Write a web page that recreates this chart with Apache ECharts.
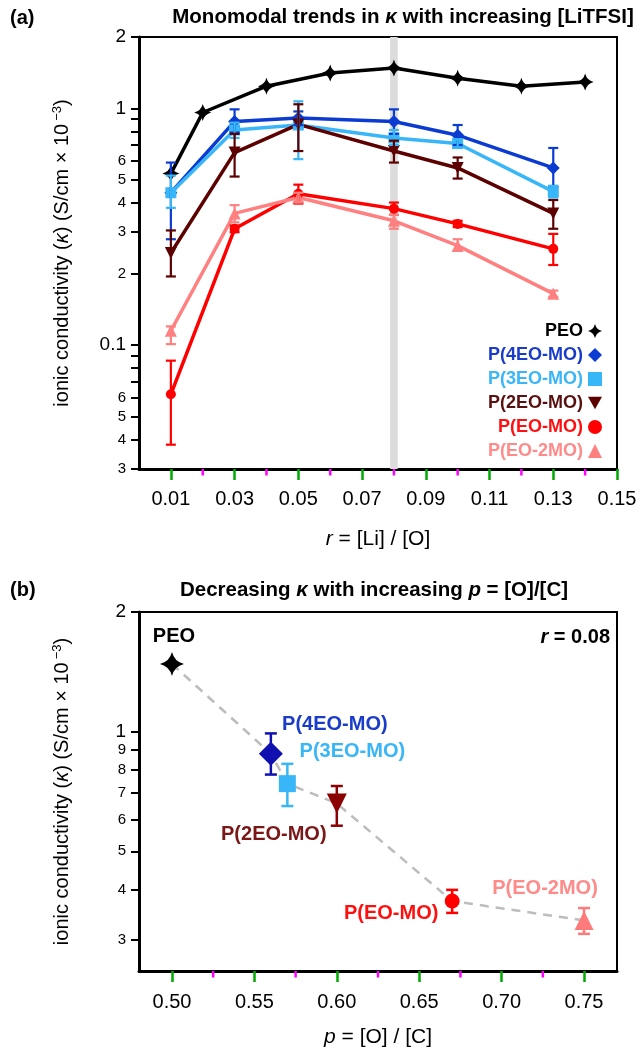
<!DOCTYPE html>
<html>
<head>
<meta charset="utf-8">
<script src="https://cdn.jsdelivr.net/npm/echarts@6/dist/echarts.min.js"></script>
<style>
html, body { margin: 0; padding: 0; background: #fff; }
#main { width: 643px; height: 1055px; }
</style>
</head>
<body>
<div id="main"></div>
<script>
var polymers = ['PEO', 'P(4EO-MO)', 'P(3EO-MO)', 'P(2EO-MO)', 'P(EO-MO)', 'P(EO-2MO)'];

// (a) conductivity vs r = [Li]/[O]
var rPEO = [0.01, 0.02, 0.04, 0.06, 0.08, 0.10, 0.12, 0.14];
var kPEO = [0.53, 0.96, 1.24, 1.41, 1.48, 1.34, 1.24, 1.29];
var rCopo = [0.01, 0.03, 0.05, 0.08, 0.10, 0.13];
var k4EO = [0.44, 0.88, 0.91, 0.88, 0.77, 0.56];
var lo4EO = [0.28, 0.79, 0.85, 0.78, 0.70, 0.47];
var hi4EO = [0.59, 0.99, 0.97, 0.99, 0.85, 0.68];
var k3EO = [0.44, 0.81, 0.85, 0.75, 0.71, 0.445];
var lo3EO = [0.38, 0.75, 0.61, 0.70, 0.68, 0.42];
var hi3EO = [0.52, 0.87, 1.07, 0.81, 0.74, 0.47];
var k2EO = [0.245, 0.65, 0.855, 0.66, 0.56, 0.36];
var lo2EO = [0.195, 0.515, 0.66, 0.59, 0.505, 0.31];
var hi2EO = [0.305, 0.78, 1.04, 0.73, 0.62, 0.41];
var kEO = [0.062, 0.31, 0.436, 0.377, 0.325, 0.255];
var loEO = [0.038, 0.30, 0.396, 0.355, 0.315, 0.218];
var hiEO = [0.086, 0.32, 0.476, 0.40, 0.335, 0.295];
var kEO2 = [0.115, 0.36, 0.42, 0.335, 0.263, 0.165];
var loEO2 = [0.101, 0.33, 0.40, 0.31, 0.25, 0.16];
var hiEO2 = [0.12, 0.39, 0.44, 0.355, 0.28, 0.17];

// (b) conductivity at r = 0.08 vs p = [O]/[C]
var pRatio = [0.50, 0.56, 0.57, 0.60, 0.67, 0.75];
var kAtR = [1.48, 0.88, 0.74, 0.66, 0.375, 0.335];
var kAtRLo = [null, 0.78, 0.65, 0.58, 0.35, 0.31];
var kAtRHi = [null, 0.99, 0.83, 0.73, 0.40, 0.36];

// ticks
var xTicksA = [0.01, 0.03, 0.05, 0.07, 0.09, 0.11, 0.13, 0.15];
var xMinorA = [0.02, 0.04, 0.06, 0.08, 0.10, 0.12, 0.14];
var yTicksA = [0.03, 0.04, 0.05, 0.06, 0.07, 0.08, 0.09, 0.1, 0.2, 0.3, 0.4, 0.5, 0.6, 0.7, 0.8, 0.9, 1, 2];
var yLabelsA = [0.03, 0.04, 0.05, 0.06, 0.1, 0.2, 0.3, 0.4, 0.5, 0.6, 1, 2];
var xTicksB = [0.50, 0.55, 0.60, 0.65, 0.70, 0.75];
var xMinorB = [0.525, 0.575, 0.625, 0.675, 0.725];
var yTicksB = [0.3, 0.4, 0.5, 0.6, 0.7, 0.8, 0.9, 1, 2];

var font = "'Liberation Sans', Arial, sans-serif";
var colors = ['#000000', '#0b3bd1', '#38b6f7', '#5c0000', '#ff0000', '#ff8080'];
var textColors = ['#000000', '#1a3cc8', '#38b6f7', '#5a1010', '#ff1010', '#ff8a8a'];
var bColors = ['#000000', '#1010b0', '#38b6f7', '#8b0000', '#ff0000', '#ff7a7a'];
var bTextColors = ['#000000', '#1a3cc8', '#38b6f7', '#7b1717', '#ff1010', '#ff8a8a'];
var star = 'path://M0,-10 Q2,-2 10,0 Q2,2 0,10 Q-2,2 -10,0 Q-2,-2 0,-10 Z';
var downTri = 'path://M0,0 L10,0 L5,9 Z';
var symbols = [star, 'diamond', 'rect', downTri, 'circle', 'triangle'];
var sizesA = [17, 13, 11, 12, 10, 12];
var sizesB = [24, 24, 17, 20, 15, 19];
var labelOffsetB = [[2, -27], [64, -29], [65, -32], [-63, 31], [-61, 12], [-39, -32]];

var copoK = [k4EO, k3EO, k2EO, kEO, kEO2];
var copoLo = [lo4EO, lo3EO, lo2EO, loEO, loEO2];
var copoHi = [hi4EO, hi3EO, hi2EO, hiEO, hiEO2];

function zip(xs, ys) {
    return xs.map(function (x, i) { return [x, ys[i]]; });
}

function logLabel(v) {
    if (Math.abs(v - 0.1) < 1e-9) return '{big|0.1}';
    if (v >= 0.999) return '{big|' + Math.round(v) + '}';
    var m = Math.round(v / Math.pow(10, Math.floor(Math.log10(v) + 1e-9)));
    return '{sm|' + m + '}';
}

function errBars(capW, lw) {
    return function (params, api) {
        var x = api.value(0);
        var top = api.coord([x, api.value(2)]);
        var bot = api.coord([x, api.value(1)]);
        var style = { stroke: api.visual('color'), lineWidth: lw, fill: null };
        return {
            type: 'group',
            children: [
                { type: 'line', shape: { x1: top[0], y1: top[1], x2: bot[0], y2: bot[1] }, style: style },
                { type: 'line', shape: { x1: top[0] - capW, y1: top[1], x2: top[0] + capW, y2: top[1] }, style: style },
                { type: 'line', shape: { x1: bot[0] - capW, y1: bot[1], x2: bot[0] + capW, y2: bot[1] }, style: style }
            ]
        };
    };
}

// short unlabeled ticks under the x axis, placed through the axis scale
function minorTicks(xIdx, yIdx, yMin, ticks) {
    return {
        type: 'custom', xAxisIndex: xIdx, yAxisIndex: yIdx, clip: false,
        data: ticks.map(function (t) { return [t, yMin]; }),
        renderItem: function (params, api) {
            var p = api.coord([api.value(0), api.value(1)]);
            return { type: 'line', shape: { x1: p[0], y1: p[1], x2: p[0], y2: p[1] + 6.5 },
                style: { stroke: '#ff00ff', lineWidth: 2.5 } };
        }
    };
}

var axisLine = { onZero: false, lineStyle: { color: '#000', width: 3 } };
var yNameRich = {
    n: { fontSize: 20, fontFamily: font, color: '#000' },
    i: { fontSize: 20, fontFamily: font, fontStyle: 'italic', color: '#000' },
    s: { fontSize: 13, fontFamily: font, color: '#000', padding: [0, 0, 9, 3] }
};
var yName = '{n|ionic conductivity (}{i|κ}{n|) (S/cm × 10}{s|−3}{n|)}';
var titleRich = {
    b: { fontSize: 20.5, fontWeight: 'bold', fontFamily: font, fill: '#000' },
    i: { fontSize: 20.5, fontWeight: 'bold', fontStyle: 'italic', fontFamily: font, fill: '#000' }
};

var series = [];

// (a) PEO line + grey band at r = 0.08
series.push({
    name: polymers[0], type: 'line', xAxisIndex: 0, yAxisIndex: 0,
    data: zip(rPEO, kPEO), symbol: symbols[0], symbolSize: sizesA[0],
    lineStyle: { color: colors[0], width: 3.5 }, itemStyle: { color: colors[0] },
    z: 5,
    markArea: {
        silent: true,
        itemStyle: { color: '#dcdcdc' },
        data: [[{ xAxis: 0.0788 }, { xAxis: 0.0812 }]]
    }
});

for (var s = 0; s < 5; s++) {
    var idx = s + 1;
    series.push({
        name: polymers[idx], type: 'line', xAxisIndex: 0, yAxisIndex: 0,
        data: zip(rCopo, copoK[s]), symbol: symbols[idx], symbolSize: sizesA[idx],
        lineStyle: { color: colors[idx], width: 3.5 }, itemStyle: { color: colors[idx] },
        z: 5
    });
    series.push({
        name: 'err ' + polymers[idx], type: 'custom', xAxisIndex: 0, yAxisIndex: 0,
        renderItem: errBars(5, 2.2), itemStyle: { color: colors[idx] },
        encode: { x: 0, y: [1, 2] },
        data: rCopo.map(function (r, i) { return [r, copoLo[s][i], copoHi[s][i]]; }),
        z: 6
    });
}
series.push(minorTicks(0, 0, 0.03, xMinorA));

// (b) dashed guide + points with error bars
series.push({
    name: 'trend', type: 'line', xAxisIndex: 1, yAxisIndex: 1,
    data: zip(pRatio, kAtR), symbol: 'none',
    lineStyle: { color: '#bdbdbd', width: 2.5, type: [9, 7] }, z: 2
});
series.push({
    name: 'err b', type: 'custom', xAxisIndex: 1, yAxisIndex: 1,
    renderItem: function (params, api) {
        var i = params.dataIndex + 1;
        var g = errBars(6, 2.5)(params, api);
        g.children.forEach(function (c) { c.style.stroke = bColors[i]; });
        return g;
    },
    encode: { x: 0, y: [1, 2] },
    data: pRatio.slice(1).map(function (p, i) { return [p, kAtRLo[i + 1], kAtRHi[i + 1]]; }),
    z: 4
});
for (var b = 0; b < 6; b++) {
    series.push({
        name: 'b ' + polymers[b], type: 'scatter', xAxisIndex: 1, yAxisIndex: 1,
        data: [[pRatio[b], kAtR[b]]], symbol: symbols[b], symbolSize: sizesB[b],
        itemStyle: { color: bColors[b], opacity: 1 },
        label: {
            show: true, position: 'inside', offset: labelOffsetB[b],
            formatter: polymers[b], color: bTextColors[b],
            fontSize: 20, fontWeight: 'bold', fontFamily: font
        },
        z: 5
    });
}
series.push(minorTicks(1, 1, 0.25, xMinorB));

var option = {
    animation: false,
    backgroundColor: '#fff',
    textStyle: { fontFamily: font },
    graphic: [
        { type: 'text', x: 10, y: 18, style: { text: '(a)', font: 'bold 20px ' + font, fill: '#000', verticalAlign: 'middle' } },
        { type: 'text', x: 403, y: 17, style: {
            text: '{b|Monomodal trends in }{i|κ}{b| with increasing [LiTFSI]}',
            align: 'center', verticalAlign: 'middle', rich: titleRich
        } },
        { type: 'text', x: 10, y: 590, style: { text: '(b)', font: 'bold 20px ' + font, fill: '#000', verticalAlign: 'middle' } },
        { type: 'text', x: 374, y: 590, style: {
            text: '{b|Decreasing }{i|κ}{b| with increasing }{i|p}{b| = [O]/[C]}',
            align: 'center', verticalAlign: 'middle', rich: titleRich
        } },
        { type: 'text', x: 610, y: 637, style: {
            text: '{i|r}{b| = 0.08}', align: 'right', verticalAlign: 'middle',
            rich: {
                b: { fontSize: 20, fontWeight: 'bold', fontFamily: font, fill: '#000' },
                i: { fontSize: 20, fontWeight: 'bold', fontStyle: 'italic', fontFamily: font, fill: '#000' }
            }
        } }
    ],
    legend: {
        orient: 'vertical', right: 36, top: 317, align: 'right',
        itemWidth: 14, itemHeight: 14, itemGap: 6, selectedMode: false,
        textStyle: { fontSize: 18, fontWeight: 'bold', fontFamily: font, lineHeight: 18 },
        data: polymers.map(function (p, i) {
            return { name: p, icon: symbols[i], itemStyle: { color: colors[i] }, textStyle: { color: textColors[i] } };
        })
    },
    grid: [
        { left: 139, right: 26, top: 37, bottom: 586, show: true, borderColor: '#000', borderWidth: 2, backgroundColor: 'transparent' },
        { left: 139, right: 26, top: 612, bottom: 84, show: true, borderColor: '#000', borderWidth: 2, backgroundColor: 'transparent' }
    ],
    xAxis: [
        {
            gridIndex: 0, type: 'value', position: 'bottom', min: 0, max: 0.15,
            axisLine: axisLine, splitLine: { show: false },
            axisTick: { show: true, customValues: xTicksA, length: 11, lineStyle: { color: '#00aa00', width: 2.5 } },
            axisLabel: { customValues: xTicksA, fontSize: 20, color: '#000', margin: 20,
                formatter: function (v) { return v.toFixed(2); } },
            name: '{i|r}{n| = [Li] / [O]}', nameLocation: 'middle', nameGap: 60,
            nameTextStyle: { rich: { i: { fontSize: 21, fontStyle: 'italic', color: '#000' }, n: { fontSize: 21, color: '#000' } } }
        },
        {
            gridIndex: 1, type: 'value', position: 'bottom', min: 0.48, max: 0.77,
            axisLine: axisLine, splitLine: { show: false },
            axisTick: { show: true, customValues: xTicksB, length: 11, lineStyle: { color: '#00aa00', width: 2.5 } },
            axisLabel: { customValues: xTicksB, fontSize: 20, color: '#000', margin: 21,
                formatter: function (v) { return v.toFixed(2); } },
            name: '{i|p}{n| = [O] / [C]}', nameLocation: 'middle', nameGap: 56,
            nameTextStyle: { rich: { i: { fontSize: 21, fontStyle: 'italic', color: '#000' }, n: { fontSize: 21, color: '#000' } } }
        }
    ],
    yAxis: [
        {
            gridIndex: 0, type: 'log', min: 0.03, max: 2,
            axisLine: axisLine, splitLine: { show: false },
            axisTick: { customValues: yTicksA, length: 8, lineStyle: { color: '#000', width: 2 } },
            axisLabel: { customValues: yLabelsA, margin: 13, formatter: logLabel,
                rich: { big: { fontSize: 19, color: '#000' }, sm: { fontSize: 15, color: '#000' } } },
            name: yName, nameLocation: 'middle', nameGap: 66, nameRotate: 90,
            nameTextStyle: { rich: yNameRich }
        },
        {
            gridIndex: 1, type: 'log', min: 0.25, max: 2,
            axisLine: axisLine, splitLine: { show: false },
            axisTick: { customValues: yTicksB, length: 8, lineStyle: { color: '#000', width: 2 } },
            axisLabel: { customValues: yTicksB, margin: 13, formatter: logLabel,
                rich: { big: { fontSize: 19, color: '#000' }, sm: { fontSize: 15, color: '#000' } } },
            name: yName, nameLocation: 'middle', nameGap: 66, nameRotate: 90,
            nameTextStyle: { rich: yNameRich }
        }
    ],
    series: series
};

var myChart = echarts.init(document.getElementById('main'));
myChart.setOption(option);

window.onresize = function () {
    myChart.resize();
};
</script>
</body>
</html>
